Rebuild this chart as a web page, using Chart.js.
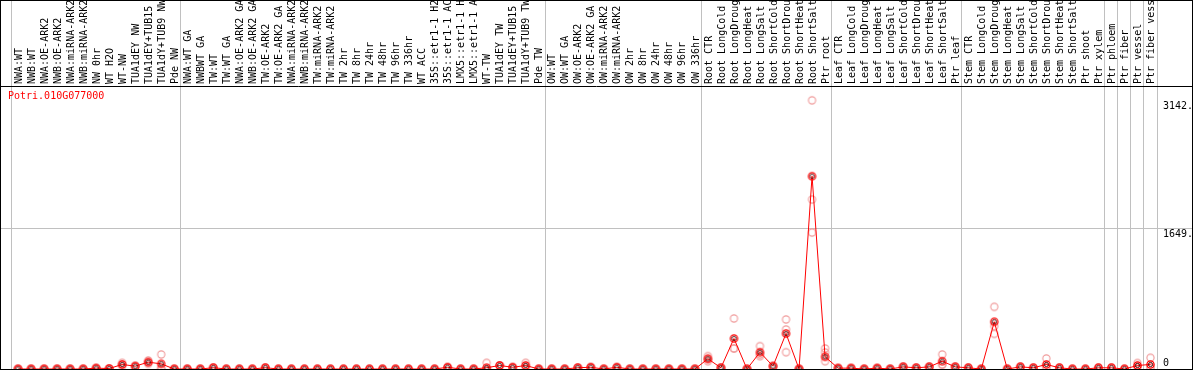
<!DOCTYPE html>
<html>
<head>
<meta charset="utf-8">
<script src="https://cdn.jsdelivr.net/npm/chart.js@4"></script>
<style>
    html, body { margin: 0; padding: 0; background: #fff; }
    #wrap { position: relative; width: 1194px; height: 370px; }
    #gene { position: absolute; left: 8px; top: 90px; font: 10px "DejaVu Sans Mono", monospace; color: #ff0000; }
</style>
</head>
<body>
<div id="wrap">
    <canvas id="expressionChart" width="1194" height="370"></canvas>
    <div id="gene">Potri.010G077000</div>
</div>
<script>
const categories = [
    "NWA:WT", "NWB:WT", "NWA:OE-ARK2", "NWB:OE-ARK2", "NWA:miRNA-ARK2", "NWB:miRNA-ARK2",
    "NW 0hr", "WT H2O", "WT-NW", "TUA1dEY NW", "TUA1dEY+TUB15 NW", "TUA1dY+TUB9 NW", "Pde NW",
    "NWA:WT GA", "NWBWT GA", "TW:WT", "TW:WT GA", "NWA:OE-ARK2 GA", "NWB:OE-ARK2 GA",
    "TW:OE-ARK2", "TW:OE-ARK2 GA", "NWA:miRNA-ARK2", "NWB:miRNA-ARK2", "TW:miRNA-ARK2", "TW:miRNA-ARK2",
    "TW 2hr", "TW 8hr", "TW 24hr", "TW 48hr", "TW 96hr", "TW 336hr", "WT ACC",
    "35S::etr1-1 H2O", "35S::etr1-1 ACC", "LMX5::etr1-1 H2O", "LMX5::etr1-1 ACC",
    "WT-TW", "TUA1dEY TW", "TUA1dEY+TUB15 TW", "TUA1dY+TUB9 TW", "Pde TW",
    "OW:WT", "OW:WT GA", "OW:OE-ARK2", "OW:OE-ARK2 GA", "OW:miRNA-ARK2", "OW:miRNA-ARK2",
    "OW 2hr", "OW 8hr", "OW 24hr", "OW 48hr", "OW 96hr", "OW 336hr",
    "Root CTR", "Root LongCold", "Root LongDrought", "Root LongHeat", "Root LongSalt",
    "Root ShortCold", "Root ShortDrought", "Root ShortHeat", "Root ShortSalt", "Ptr root",
    "Leaf CTR", "Leaf LongCold", "Leaf LongDrought", "Leaf LongHeat", "Leaf LongSalt",
    "Leaf ShortCold", "Leaf ShortDrought", "Leaf ShortHeat", "Leaf ShortSalt", "Ptr leaf",
    "Stem CTR", "Stem LongCold", "Stem LongDrought", "Stem LongHeat", "Stem LongSalt",
    "Stem ShortCold", "Stem ShortDrought", "Stem ShortHeat", "Stem ShortSalt", "Ptr shoot",
    "Ptr xylem", "Ptr phloem", "Ptr fiber", "Ptr vessel", "Ptr fiber vessel"
];

// mean expression per sample
const meanValues = [
    0, 0, 0, 0, 0, 0, 10, 5, 53, 33, 80, 60, 0,
    0, 0, 15, 0, 0, 0, 15, 0, 0, 0, 0, 0, 0, 0,
    0, 0, 0, 0, 0, 0, 20, 0, 0, 15, 41, 20, 41, 0,
    0, 0, 15, 20, 0, 20, 0, 0, 0, 0, 0, 0,
    119, 14, 357, 0, 196, 33, 415, 0, 2255, 143,
    10, 10, 0, 10, 0, 25, 14, 25, 91, 25,
    14, 0, 552, 0, 25, 14, 53, 14, 0, 0,
    14, 14, 0, 41, 53
];

// individual replicates
const rep1 = [
    0, 0, 0, 0, 0, 0, 10, 5, 72, 33, 100, 170, 0,
    0, 0, 15, 0, 0, 0, 15, 0, 0, 0, 0, 0, 0, 0,
    0, 0, 0, 0, 0, 0, 20, 0, 0, 72, 41, 20, 72, 0,
    0, 0, 15, 20, 0, 20, 0, 0, 0, 0, 0, 0,
    150, 14, 591, 0, 267, 33, 579, 0, 3142, 240,
    10, 10, 0, 10, 0, 25, 14, 25, 170, 25,
    14, 0, 727, 0, 25, 14, 123, 14, 0, 0,
    14, 14, 0, 70, 131
];
const rep2 = [
    0, 0, 0, 0, 0, 0, 10, 5, 33, 33, 80, 10, 0,
    0, 0, 15, 0, 0, 0, 15, 0, 0, 0, 0, 0, 0, 0,
    0, 0, 0, 0, 0, 0, 20, 0, 0, 0, 41, 20, 30, 0,
    0, 0, 15, 20, 0, 20, 0, 0, 0, 0, 0, 0,
    119, 14, 240, 0, 150, 33, 462, 0, 1982, 193,
    10, 10, 0, 10, 0, 25, 14, 25, 53, 25,
    14, 0, 500, 0, 25, 14, 20, 14, 0, 0,
    14, 14, 0, 30, 20
];
const rep3 = [
    0, 0, 0, 0, 0, 0, 10, 5, 53, 33, 60, 0, 0,
    0, 0, 15, 0, 0, 0, 15, 0, 0, 0, 0, 0, 0, 0,
    0, 0, 0, 0, 0, 0, 20, 0, 0, 0, 41, 20, 20, 0,
    0, 0, 15, 20, 0, 20, 0, 0, 0, 0, 0, 0,
    91, 14, 240, 0, 170, 33, 196, 0, 1596, 91,
    10, 10, 0, 10, 0, 25, 14, 25, 50, 25,
    14, 0, 411, 0, 25, 14, 15, 14, 0, 0,
    14, 14, 0, 20, 10
];

// sample index where a new group starts (88 = after the last sample)
const groupStarts = [0, 13, 41, 53, 63, 73, 84, 85, 86, 87, 88];

const yTickValues = [0, 1649, 3142];
const yTickLabels = ["0", "1649.", "3142."];

const geneName = "Potri.010G077000";
document.getElementById("gene").textContent = geneName;

function toPoints(values) {
    return values.map((v, i) => ({ x: i, y: v }));
}

// little ring markers
function ringMarker(outer, inner) {
    const c = document.createElement("canvas");
    c.width = 11;
    c.height = 11;
    const g = c.getContext("2d");
    g.lineWidth = inner ? 1.3 : 1.1;
    g.strokeStyle = outer;
    g.beginPath();
    g.arc(5.5, 5.5, 3.6, 0, Math.PI * 2);
    g.stroke();
    if (inner) {
        g.lineWidth = 0.9;
        g.strokeStyle = inner;
        g.beginPath();
        g.arc(5.5, 5.5, 2.1, 0, Math.PI * 2);
        g.stroke();
    }
    return c;
}

const meanMarker = ringMarker("#ff0000", "#400000");
const repMarker = ringMarker("#f09a9a", null);

// outer box and the line under the sample names
const framePlugin = {
    id: "frame",
    afterDraw(chart) {
        const ctx = chart.ctx;
        const top = chart.chartArea.top;
        ctx.save();
        ctx.strokeStyle = "#000";
        ctx.lineWidth = 1;
        ctx.strokeRect(0.5, 0.5, chart.width - 2, chart.height - 1);
        ctx.beginPath();
        ctx.moveTo(0, top + 0.5);
        ctx.lineTo(chart.width - 1, top + 0.5);
        ctx.stroke();
        ctx.restore();
    }
};

const monoFont = { family: "'DejaVu Sans Mono', monospace", size: 10 };

const ctx = document.getElementById("expressionChart").getContext("2d");
const myChart = new Chart(ctx, {
    type: "scatter",
    data: {
        datasets: [
            {
                label: "mean",
                data: toPoints(meanValues),
                showLine: true,
                borderColor: "#ff0000",
                borderWidth: 1,
                pointStyle: meanMarker,
                pointRadius: 5,
                clip: false,
                order: 0
            },
            { label: "rep1", data: toPoints(rep1), pointStyle: repMarker, pointRadius: 5, clip: false, order: 1 },
            { label: "rep2", data: toPoints(rep2), pointStyle: repMarker, pointRadius: 5, clip: false, order: 2 },
            { label: "rep3", data: toPoints(rep3), pointStyle: repMarker, pointRadius: 5, clip: false, order: 3 }
        ]
    },
    options: {
        responsive: false,
        animation: false,
        devicePixelRatio: 1,
        layout: { autoPadding: false, padding: { top: 1, left: 1, right: 1, bottom: 1 } },
        plugins: {
            legend: { display: false },
            tooltip: { enabled: false }
        },
        scales: {
            x: {
                type: "linear",
                position: "top",
                min: -1.31,
                max: 87.5,
                afterBuildTicks: (scale) => {
                    scale.ticks = categories.map((c, i) => ({ value: i }));
                },
                afterFit: (scale) => {
                    scale.height = 85;
                    scale.paddingLeft = 0;
                    scale.paddingRight = 0;
                },
                ticks: {
                    autoSkip: false,
                    minRotation: 90,
                    maxRotation: 90,
                    padding: -83,
                    labelOffset: 13,
                    color: "#000",
                    font: monoFont,
                    callback: (value) => categories[value]
                },
                grid: {
                    offset: true,
                    drawTicks: true,
                    tickLength: 85,
                    lineWidth: 1,
                    color: (c) => groupStarts.includes(c.index === undefined ? categories.length : c.index) ? "#c0c0c0" : "rgba(0,0,0,0)"
                },
                border: { display: false }
            },
            y: {
                type: "linear",
                position: "right",
                min: 0,
                max: 3310,
                afterBuildTicks: (scale) => {
                    scale.ticks = yTickValues.map(v => ({ value: v }));
                },
                afterFit: (scale) => {
                    scale.width = 36;
                    scale.paddingTop = 0;
                    scale.paddingBottom = 0;
                },
                ticks: {
                    crossAlign: "near",
                    padding: -30,
                    color: "#000",
                    font: monoFont,
                    callback: (value) => {
                        const label = yTickLabels[yTickValues.indexOf(value)];
                        return value === 0 ? [label, ""] : ["", label];
                    }
                },
                grid: {
                    drawTicks: true,
                    tickLength: 36,
                    color: (c) => c.tick && c.tick.value === 1649 ? "#c0c0c0" : "rgba(0,0,0,0)"
                },
                border: { display: false }
            }
        }
    },
    plugins: [framePlugin]
});
</script>
</body>
</html>
